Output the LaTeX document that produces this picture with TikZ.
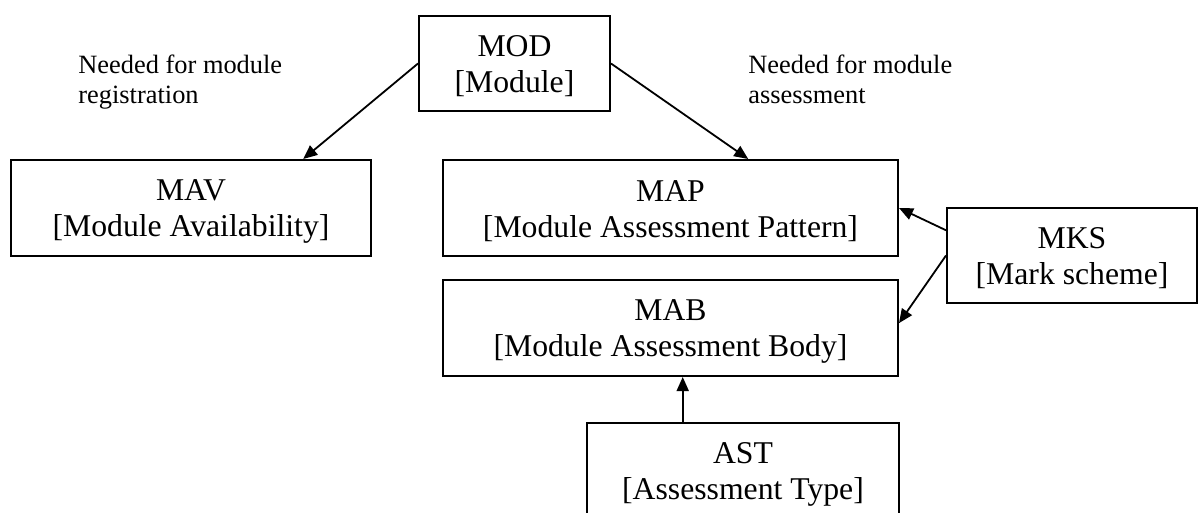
\documentclass[tikz,border=0pt]{standalone}
\usepackage{fontspec}
\setmainfont{Liberation Serif}
\usetikzlibrary{arrows.meta,calc}
\newcommand{\toprulepad}{\rule{0pt}{13.5pt}}
\begin{document}
\begin{tikzpicture}[x=0.5pt,y=-0.5pt,
  box/.style={draw, line width=1pt, inner sep=0pt, align=center,
    font=\fontsize{15.85}{18}\selectfont},
  note/.style={inner sep=0pt, align=left, anchor=north west,
    font=\fontsize{13.2}{15}\selectfont},
  link/.style={line width=0.9pt, -{Triangle[length=7pt,width=6pt]}}]
\useasboundingbox (0,0) rectangle (1198,513);
\clip (0,0) rectangle (1198,513);

\node[box, minimum width=95.5pt, minimum height=47.5pt] (MOD) at (514.5,63.5) {\toprulepad MOD\\{}[Module]};
\node[box, minimum width=180pt, minimum height=48pt] (MAV) at (191,208) {\toprulepad MAV\\{}[Module Availability]};
\node[box, minimum width=227.5pt, minimum height=48pt] (MAP) at (670.5,208) {\toprulepad MAP\\{}[Module Assessment Pattern]};
\node[box, minimum width=227.5pt, minimum height=48pt] (MAB) at (670.5,328) {\toprulepad MAB\\{}[Module Assessment Body]};
\node[box, minimum width=125pt, minimum height=47.5pt] (MKS) at (1072,255.5) {\toprulepad MKS\\{}[Mark scheme]};
\node[box, minimum width=156pt, minimum height=48pt] (AST) at (743,471) {\toprulepad AST\\{}[Assessment Type]};

\node[note] (n1) at (78,55) {Needed for module\\registration};
\node[note] (n2) at (748,55) {Needed for module\\assessment};

\draw[link] (MOD.west) -- ($(MAV.north west)!0.81!(MAV.north east)$);
\draw[link] (MOD.east) -- ($(MAP.north west)!0.67!(MAP.north east)$);
\draw[link] ($(MKS.north west)!0.24!(MKS.south west)$) -- (MAP.east);
\draw[link] (MKS.west) -- ($(MAB.north east)!0.45!(MAB.south east)$);
\coordinate (astTop) at ($(AST.north west)!0.308!(AST.north east)$);
\draw[link] (astTop) -- (astTop |- MAB.south);
\end{tikzpicture}
\end{document}
